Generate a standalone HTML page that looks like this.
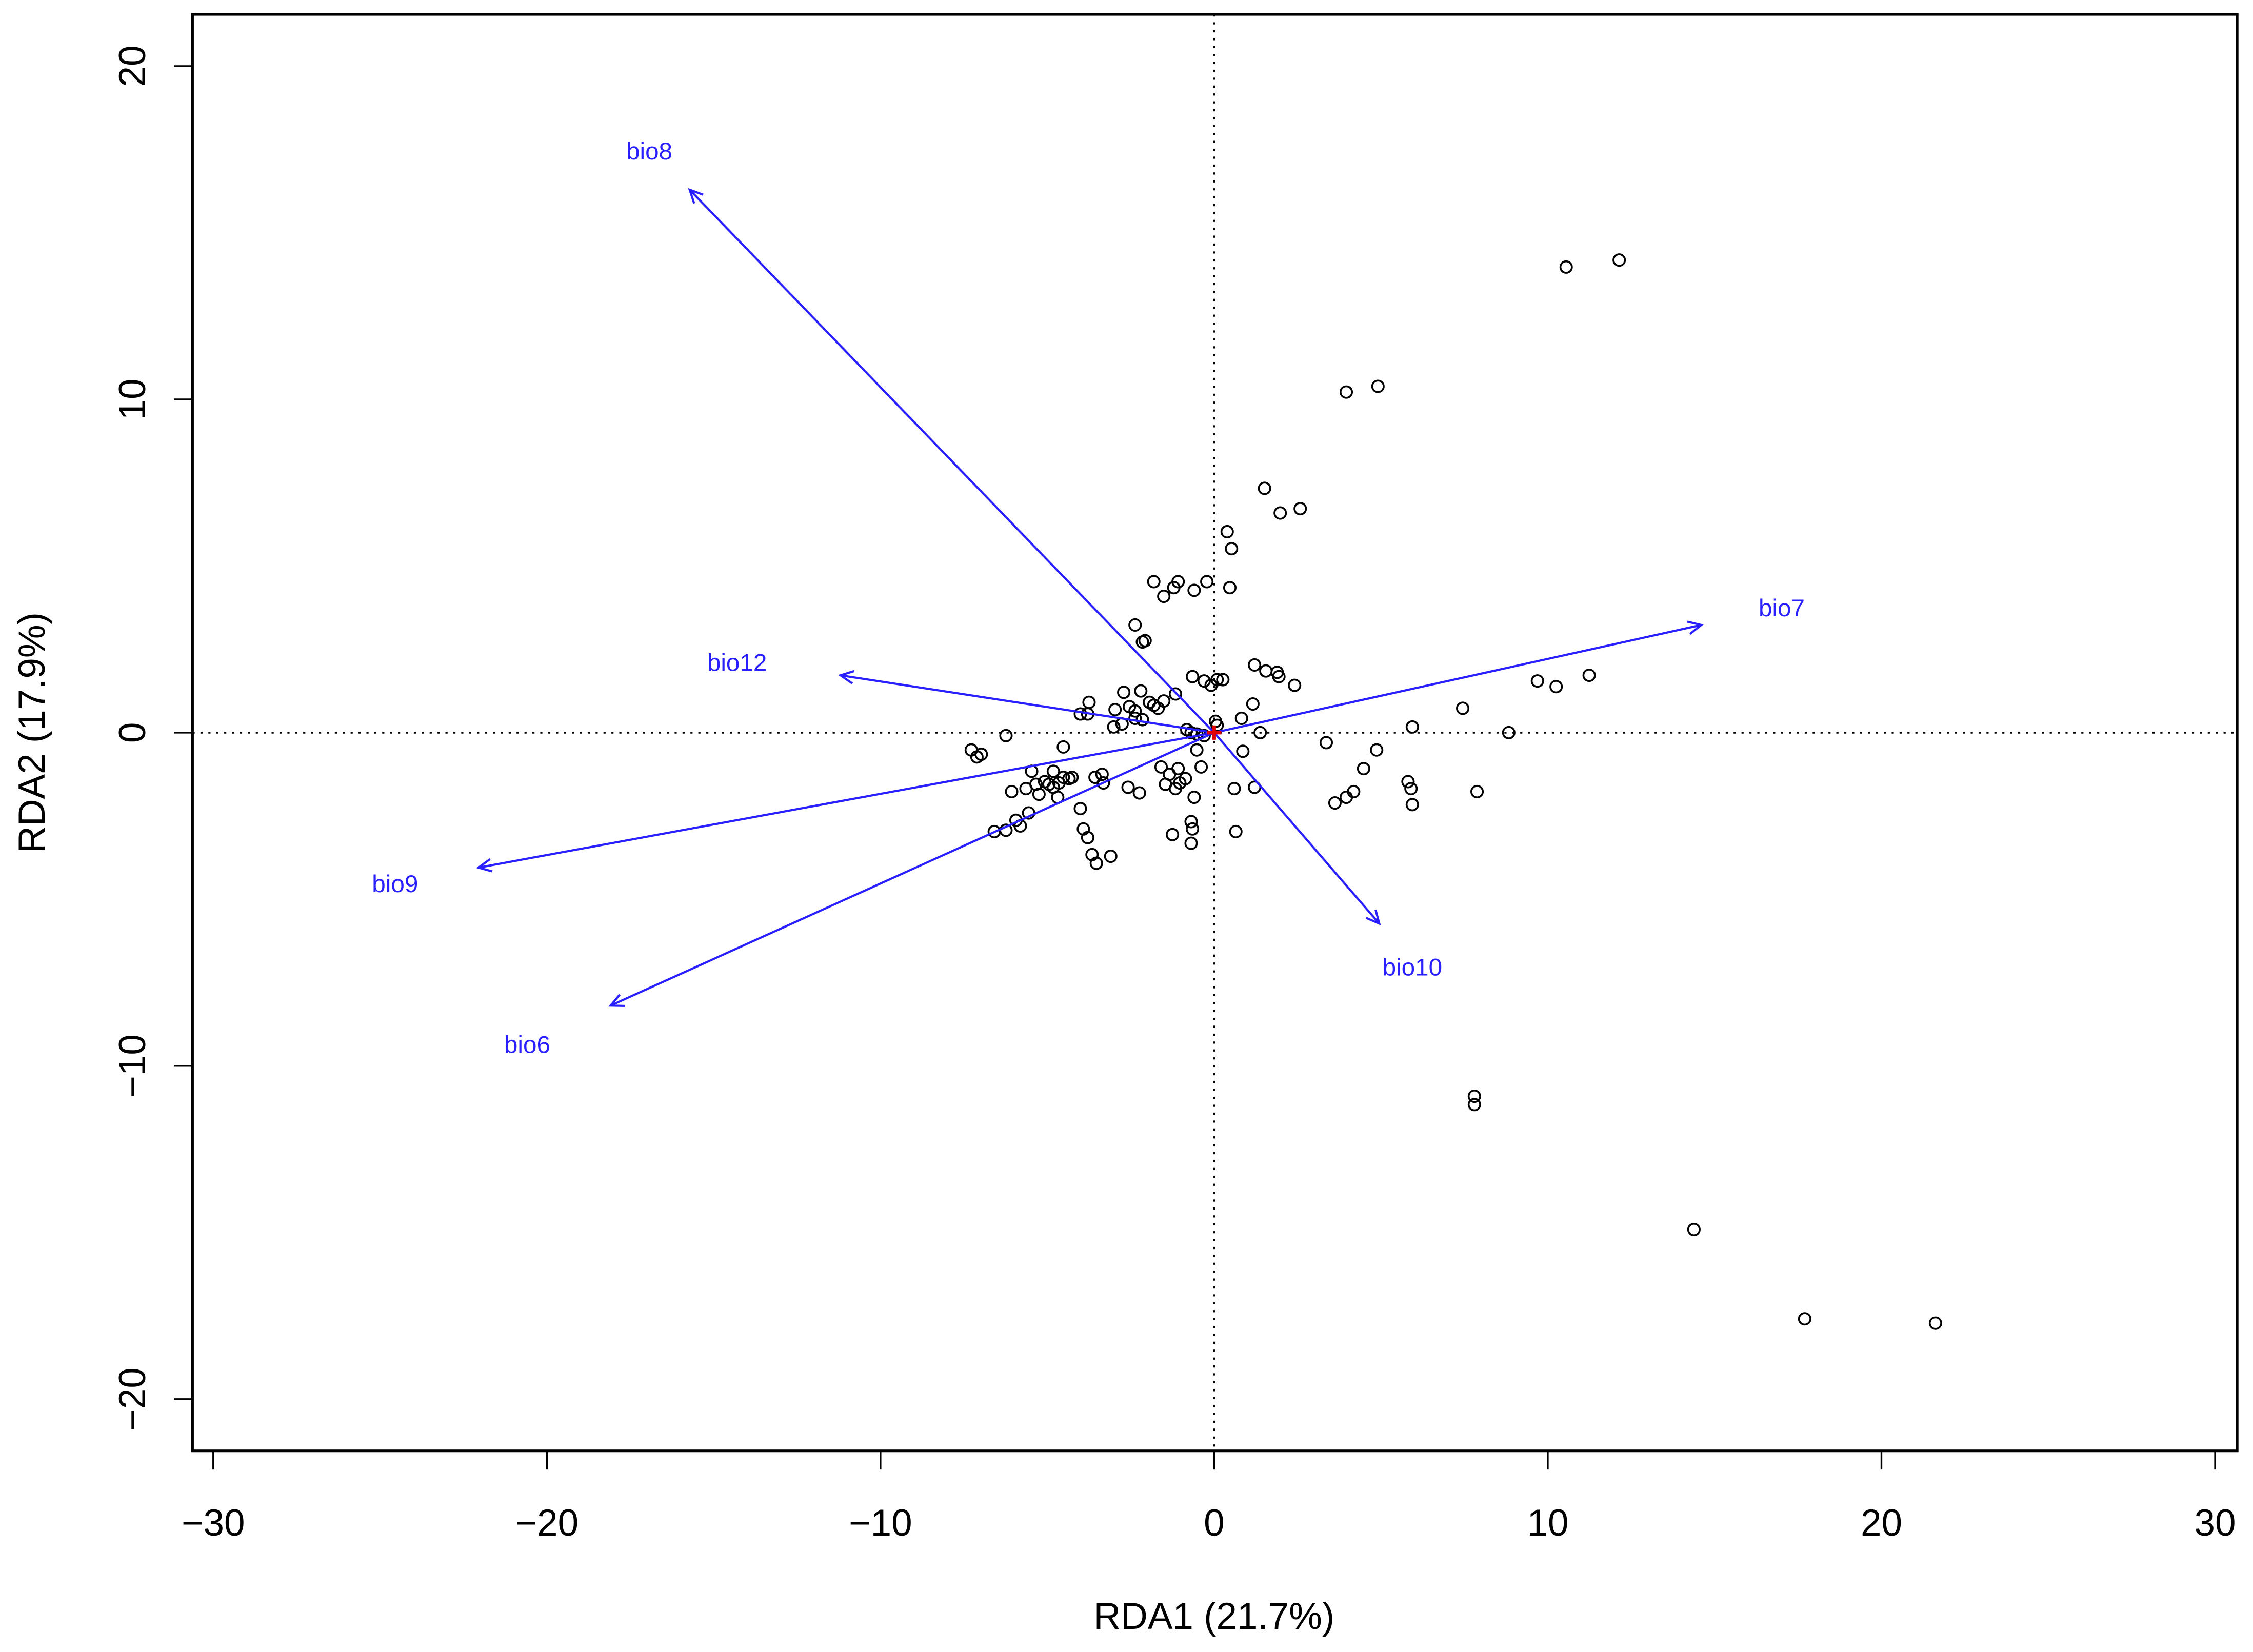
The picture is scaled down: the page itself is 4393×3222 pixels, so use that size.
<!DOCTYPE html>
<html><head><meta charset="utf-8"><style>
html,body{margin:0;padding:0;background:#fff;}
svg{display:block;}
text{font-family:"Liberation Sans",Arial,sans-serif;}
</style></head><body>
<svg id="chart" width="4393" height="3222" viewBox="0 0 1568 1150" xmlns="http://www.w3.org/2000/svg">
<g id="axes"></g>
<g id="marks"></g>
</svg>
<script>
const xTicks = [-30, -20, -10, 0, 10, 20, 30];
const yTicks = [-20, -10, 0, 10, 20];
const siteX = [10.55,12.14,3.96,4.91,1.51,2.58,1.98,0.39,0.52,0.47,-1.81,-1.08,-1.21,-1.51,-0.60,-0.22,-2.37,-2.07,-2.15,1.21,1.55,1.89,1.94,2.41,-0.65,-0.30,0.09,0.26,-0.09,7.45,9.69,10.25,11.24,1.16,0.82,0.04,0.09,1.38,5.94,8.83,-3.75,-4.01,-3.79,-2.71,-2.20,-1.94,-1.51,-1.68,-1.81,-2.97,-2.54,-2.37,-2.37,-3.01,-2.15,-2.76,-1.16,-0.69,-0.82,-0.52,-0.30,-6.24,-7.28,-7.11,-6.98,-4.52,-0.52,0.86,3.36,4.87,4.48,-0.39,-1.59,-1.08,-1.34,-1.46,-1.03,-0.86,-1.16,-0.60,-5.47,-4.82,-4.52,-4.65,-4.82,-4.95,-4.35,-5.08,-5.34,-5.64,-6.07,-5.25,-4.69,-4.26,-3.57,-3.36,-3.32,-2.58,-2.24,0.60,1.21,4.18,3.96,3.62,5.81,5.90,5.94,7.88,-5.56,-5.94,-6.59,-6.24,-5.81,-4.01,-3.92,-3.79,-3.66,-3.53,-3.10,-1.25,-0.69,-0.65,-0.69,0.65,7.80,7.80,14.38,17.70,21.62];
const siteY = [13.97,14.18,10.22,10.39,7.33,6.72,6.59,6.03,5.52,4.35,4.53,4.53,4.35,4.09,4.27,4.53,3.23,2.76,2.72,2.03,1.85,1.81,1.68,1.42,1.68,1.55,1.59,1.59,1.42,0.73,1.55,1.38,1.72,0.86,0.43,0.34,0.22,0,0.17,0,0.91,0.56,0.56,1.21,1.25,0.91,0.95,0.73,0.82,0.69,0.78,0.65,0.43,0.17,0.39,0.26,1.16,0,0.09,-0.04,-0.09,-0.09,-0.52,-0.73,-0.65,-0.43,-0.52,-0.56,-0.30,-0.52,-1.08,-1.03,-1.03,-1.08,-1.25,-1.55,-1.51,-1.38,-1.68,-1.94,-1.16,-1.16,-1.34,-1.51,-1.64,-1.55,-1.38,-1.47,-1.55,-1.68,-1.77,-1.85,-1.94,-1.34,-1.34,-1.25,-1.51,-1.64,-1.81,-1.68,-1.64,-1.77,-1.94,-2.11,-1.47,-1.68,-2.16,-1.77,-2.41,-2.63,-2.97,-2.93,-2.80,-2.28,-2.89,-3.15,-3.66,-3.92,-3.71,-3.06,-2.67,-2.89,-3.32,-2.97,-10.91,-11.16,-14.91,-17.59,-17.72];
const varNames = ["bio8","bio7","bio12","bio9","bio6","bio10"];
const varX = [-15.72,14.60,-11.20,-22.05,-18.09,4.95];
const varY = [16.29,3.23,1.72,-4.05,-8.19,-5.73];
const labelX = [-16.93,17.01,-14.30,-24.55,-20.59,5.94];
const labelY = [17.46,3.75,2.11,-4.53,-9.35,-7.03];

const NS = "http://www.w3.org/2000/svg";
const X0 = 845, XS = 23.22, Y0 = 510, YS = 23.2;
function sx(v){ return X0 + v*XS; }
function sy(v){ return Y0 - v*YS; }
function mk(tag, attrs, parent){
  const e = document.createElementNS(NS, tag);
  for (const k in attrs) e.setAttribute(k, attrs[k]);
  parent.appendChild(e);
  return e;
}
const axes = document.getElementById('axes');
const marks = document.getElementById('marks');
const L = 134, R = 1557, T = 10, B = 1010;

// zero lines
let zx = mk('line',{x1:L,x2:R,y1:sy(0),y2:sy(0),stroke:'#000','stroke-width':1.3,'stroke-dasharray':'1.5 4'},axes);


let zy = mk('line',{x1:sx(0),x2:sx(0),y1:T,y2:B,stroke:'#000','stroke-width':1.3,'stroke-dasharray':'1.5 4'},axes);



// frame
let fr = mk('rect',{x:L,y:T,width:R-L,height:B-T,fill:'none',stroke:'#000','stroke-width':1.8},axes);



xTicks.forEach(t=>{
  let l = mk('line',{x1:sx(t),x2:sx(t),y1:B,y2:B+13,stroke:'#000','stroke-width':1.2},axes);
  
  
  let tx = mk('text',{x:sx(t),y:1069,'font-size':26,'text-anchor':'middle',fill:'#000'},axes);
  tx.textContent = t===0 ? '0' : (t<0 ? '\u2212'+Math.abs(t) : String(t));
  
  
});
yTicks.forEach(t=>{
  let l = mk('line',{x1:L-13,x2:L,y1:sy(t),y2:sy(t),stroke:'#000','stroke-width':1.2},axes);
  
  
  let tx = mk('text',{x:0,y:0,'font-size':26,'text-anchor':'middle',fill:'#000',transform:`translate(101,${sy(t)}) rotate(-90)`},axes);
  tx.textContent = t===0 ? '0' : (t<0 ? '\u2212'+Math.abs(t) : String(t));
  
  
});
let xt = mk('text',{x:845,y:1134,'font-size':26,'text-anchor':'middle',fill:'#000'},axes);
xt.textContent = 'RDA1 (21.7%)';


let yt = mk('text',{x:0,y:0,'font-size':26,'text-anchor':'middle',fill:'#000',transform:'translate(31,510) rotate(-90)'},axes);
yt.textContent = 'RDA2 (17.9%)';



// site points
siteX.forEach((v,i)=>{
  let c = mk('circle',{cx:sx(v),cy:sy(siteY[i]),r:4,fill:'none',stroke:'#000','stroke-width':1.3},marks);
  
  
});

// arrows
const blue = '#2a1fff';
varNames.forEach((n,i)=>{
  const x2 = sx(varX[i]), y2 = sy(varY[i]);
  let ln = mk('line',{x1:sx(0),y1:sy(0),x2:x2,y2:y2,stroke:blue,'stroke-width':1.5},marks);
  
  
  const ang = Math.atan2(y2-sy(0), x2-sx(0));
  const h = 10, a = 0.45;
  const p1 = [x2 - h*Math.cos(ang-a), y2 - h*Math.sin(ang-a)];
  const p2 = [x2 - h*Math.cos(ang+a), y2 - h*Math.sin(ang+a)];
  let hd = mk('path',{d:`M${p1[0]},${p1[1]} L${x2},${y2} L${p2[0]},${p2[1]}`,fill:'none',stroke:blue,'stroke-width':1.5},marks);
  
  
  let tx = mk('text',{x:sx(labelX[i]),y:sy(labelY[i])+6,'font-size':17,'text-anchor':'middle',fill:blue},marks);
  tx.textContent = n;
  
  
});

// origin centroid marker
let oc = mk('path',{d:`M${sx(0)-5},${sy(0)} L${sx(0)+5},${sy(0)} M${sx(0)},${sy(0)-5} L${sx(0)},${sy(0)+5}`,stroke:'#e00000','stroke-width':2.5},marks);


</script>
</body></html>
